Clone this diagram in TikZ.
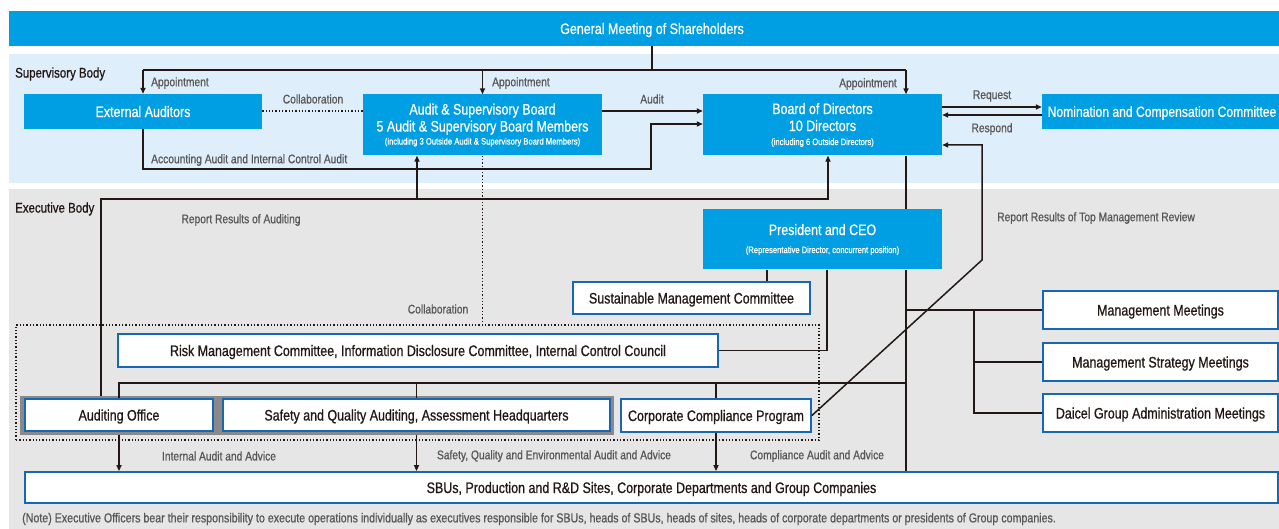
\documentclass[tikz,border=0pt]{standalone}
\usepackage{fontspec}
\setmainfont{Liberation Sans}[FakeStretch=0.82,FakeBold=0.8]
\usetikzlibrary{arrows.meta}
\definecolor{cblue}{RGB}{0,158,226}
\definecolor{lblue}{RGB}{222,239,251}
\definecolor{lgray}{RGB}{230,230,230}
\definecolor{bord}{RGB}{22,104,180}
\definecolor{ink}{RGB}{35,24,21}
\definecolor{lab}{RGB}{89,87,87}
\definecolor{fgray}{RGB}{137,137,137}
\tikzset{
  bluebox/.style={fill=cblue, text=white, inner sep=0pt, align=center, font=\fontsize{15.2}{17}\selectfont},
  wbox/.style={fill=white, draw=bord, line width=1.8pt, text=ink, inner sep=0pt, align=center, text depth=0pt, font=\fontsize{15.2}{17}\selectfont},
  conn/.style={draw=ink, line width=1.5pt},
  arr/.style={conn, -{Triangle[length=6pt,width=5pt]}},
  lbl/.style={text=lab, font=\fontsize{12.5}{14}\selectfont, inner sep=0pt},
  hdr/.style={text=ink, font=\fontsize{14}{16}\selectfont, inner sep=0pt, anchor=west},
  dots/.style={draw=ink, line width=1.3pt, dotted}
}
\newcommand{\smalltxt}[1]{{\fontsize{9.3}{10}\selectfont #1}}
\begin{document}
\begin{tikzpicture}[x=1pt,y=-1pt]
\useasboundingbox (0,0) rectangle (1279,529);
% backgrounds
\fill[lblue] (9,54) rectangle (1285,183);
\fill[lgray] (9,189) rectangle (1285,535);
\node[hdr] (supl) at (15,74) {Supervisory Body};
\node[hdr] (exel) at (15,209) {Executive Body};

% frames
\node[draw=none, fill=fgray, minimum width=594pt, minimum height=39pt, inner sep=0pt] (aframe) at (317,415.5) {};
\node[dots, minimum width=803pt, minimum height=115pt, inner sep=0pt] (drect) at (417.5,382.5) {};

% blue boxes
\node[bluebox, minimum width=1286pt, minimum height=35pt, text depth=0pt] (gm) at (652,28.5) {General Meeting of Shareholders};
\node[bluebox, minimum width=238pt, minimum height=35pt, text depth=0pt] (ea) at (143,111.5) {External Auditors};
\node[bluebox, minimum width=239pt, minimum height=61pt] (asb) at (482.5,125)
  {Audit \& Supervisory Board\\5 Audit \& Supervisory Board Members\\[-4pt]\smalltxt{(including 3 Outside Audit \& Supervisory Board Members)}};
\node[bluebox, minimum width=239pt, minimum height=61pt] (bod) at (822.5,125)
  {Board of Directors\\10 Directors\\[-3pt]\smalltxt{(including 6 Outside Directors)}};
\node[bluebox, minimum width=240pt, minimum height=35pt, text depth=0pt, font=\fontsize{14.8}{17}\selectfont] (ncc) at (1162,111.5) {Nomination and Compensation Committee};
\node[bluebox, minimum width=239pt, minimum height=60pt] (pres) at (822.5,239.5)
  {President and CEO\\[1pt]\smalltxt{(Representative Director, concurrent position)}};

% white boxes
\node[wbox, minimum width=237pt, minimum height=32pt] (smc) at (691.5,298) {Sustainable Management Committee};
\node[wbox, minimum width=600pt, minimum height=33pt] (risk) at (418,350.5) {Risk Management Committee, Information Disclosure Committee, Internal Control Council};
\node[wbox, minimum width=188pt, minimum height=32pt] (ao) at (119,415) {Auditing Office};
\node[wbox, minimum width=387pt, minimum height=32pt] (sq) at (416.5,415) {Safety and Quality Auditing, Assessment Headquarters};
\node[wbox, minimum width=190pt, minimum height=33pt] (ccp) at (716,415.5) {Corporate Compliance Program};
\node[wbox, minimum width=235pt, minimum height=38pt] (mm) at (1160.5,310) {Management Meetings};
\node[wbox, minimum width=235pt, minimum height=38pt] (msm) at (1160.5,362) {Management Strategy Meetings};
\node[wbox, minimum width=235pt, minimum height=38pt] (dgam) at (1160.5,413) {Daicel Group Administration Meetings};
\node[wbox, minimum width=1253pt, minimum height=31pt] (sbu) at (651.5,487.5) {SBUs, Production and R\&D Sites, Corporate Departments and Group Companies};

% helper coordinates
\coordinate (apL) at (143,70);
\coordinate (apR) at (906,70);
\coordinate (y111) at (0,111);
\coordinate (acc1) at (651,169);
\coordinate (acc2) at (651,124);
\coordinate (rq) at (0,107);
\coordinate (rs) at (0,115);
\coordinate (rr1) at (101,199);
\coordinate (rr2) at (828,199);
\coordinate (rr3) at (417,199);
\coordinate (p1) at (767,0);
\coordinate (p2) at (827,0);
\coordinate (p3) at (906,0);
\coordinate (p4) at (974,0);
\coordinate (h383) at (0,383);
\coordinate (d1) at (982,260);
\coordinate (d2) at (982,145);

% appointment
\draw[conn] (gm.south) -- (gm.south |- apL);
\draw[conn] (apL) -- (apR);
\draw[arr] (apL) -- (ea.north);
\draw[arr] (asb.north |- apL) -- (asb.north);
\draw[arr] (apR) -- (bod.north -| apR);
\node[lbl, anchor=west] (l1) at (151,83) {Appointment};
\node[lbl, anchor=west] (l2) at (492,83) {Appointment};
\node[lbl, anchor=east] (l3) at (897,84) {Appointment};

% collaboration
\draw[dots] (ea.east |- y111) -- (asb.west |- y111);
\node[lbl] (l4) at (313,99) {Collaboration};
% audit
\draw[arr] (asb.east |- y111) -- (bod.west |- y111);
\node[lbl] (l5) at (652,99) {Audit};
% accounting audit
\draw[arr] (ea.south) |- (acc1) |- (bod.west |- acc2);
\node[lbl, anchor=west] (l6) at (151,160) {Accounting Audit and Internal Control Audit};
% request / respond
\draw[arr] (bod.east |- rq) -- (ncc.west |- rq);
\draw[arr] (ncc.west |- rs) -- (bod.east |- rs);
\node[lbl] (l7) at (992,96) {Request};
\node[lbl] (l8) at (992,129) {Respond};

% report results of auditing
\draw[arr] (aframe.north -| rr1) -- (rr1) -- (rr2) -- (bod.south -| rr2);
\draw[arr] (rr3) -- (asb.south -| rr3);
\node[lbl] (l9) at (241,220) {Report Results of Auditing};
% collaboration dotted
\draw[dots] (asb.south) -- (asb.south |- drect.north);
\node[lbl] (l10) at (438,309) {Collaboration};

% president links
\draw[conn] (pres.south -| p1) -- (smc.north -| p1);
\draw[conn] (pres.south -| p2) |- (risk.east);
\draw[conn] (bod.south -| p3) -- (pres.north -| p3);
\draw[conn] (pres.south -| p3) -- (sbu.north -| p3);
\draw[conn] (p3 |- mm.west) -- (mm.west);
\draw[conn] (p4 |- mm.west) |- (dgam.west);
\draw[conn] (p4 |- msm.west) -- (msm.west);

% audit units
\draw[conn] (ao.north) |- (p3 |- h383);
\draw[conn] (sq.north) -- (sq.north |- h383);
\draw[conn] (ccp.north) -- (ccp.north |- h383);
\draw[arr] (aframe.south -| ao.north) -- (sbu.north -| ao.north);
\draw[arr] (aframe.south -| sq.north) -- (sbu.north -| sq.north);
\draw[arr] (ccp.south) -- (sbu.north -| ccp.south);
\node[lbl] (l11) at (219,456) {Internal Audit and Advice};
\node[lbl] (l12) at (554,456) {Safety, Quality and Environmental Audit and Advice};
\node[lbl] (l13) at (817,456) {Compliance Audit and Advice};

% compliance report
\draw[arr] (ccp.east) -- (d1) -- (d2) -- (bod.east |- d2);
\node[lbl, anchor=west] (l14) at (997,218) {Report Results of Top Management Review};

% note
\node[lbl, anchor=west, font=\fontsize{13}{15}\selectfont] (note) at (22,519) {(Note) Executive Officers bear their responsibility to execute operations individually as executives responsible for SBUs, heads of SBUs, heads of sites, heads of corporate departments or presidents of Group companies.};
\end{tikzpicture}
\end{document}
